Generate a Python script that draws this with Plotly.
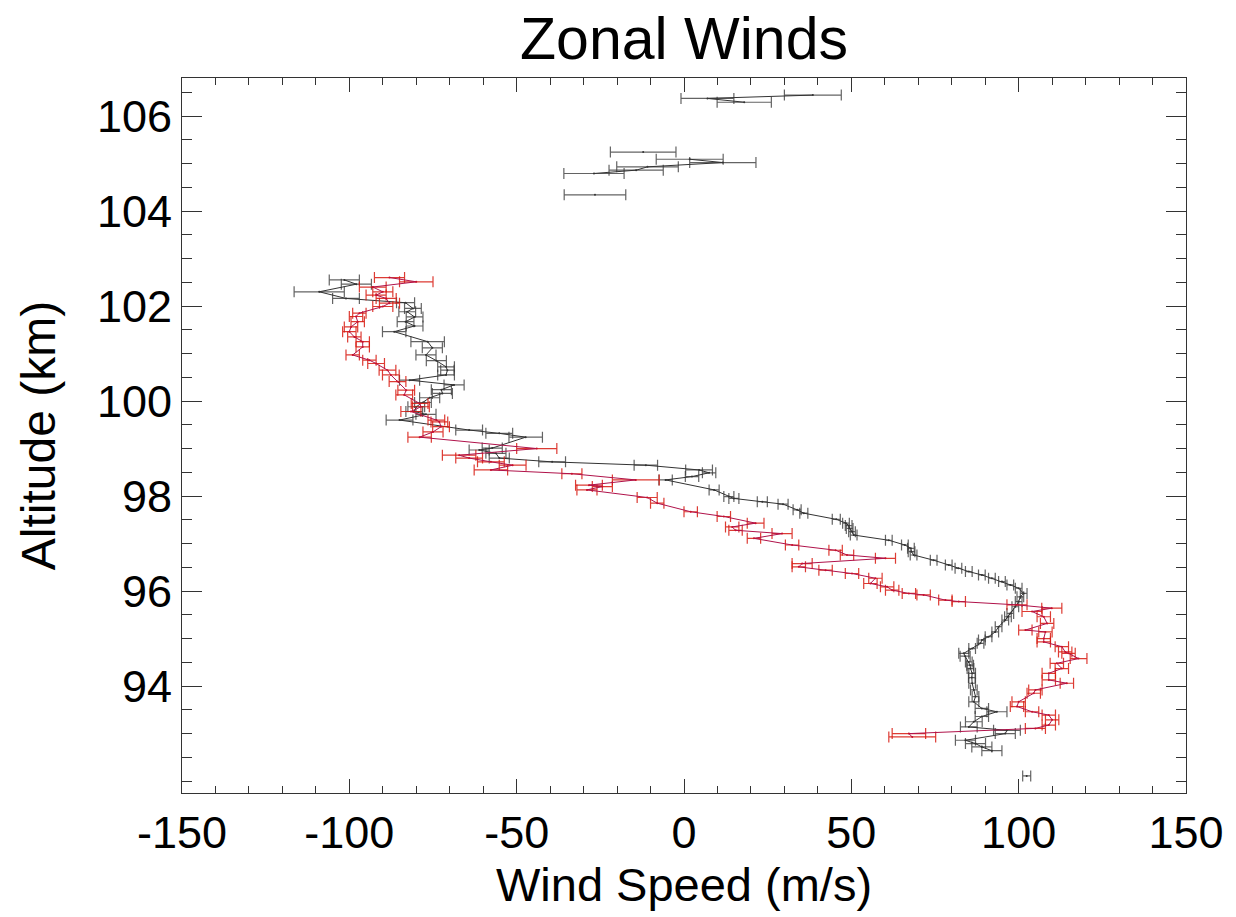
import plotly.graph_objects as go

# ---------------- data (altitude km, zonal wind m/s, error m/s) ----------------
# black series (upper isolated groups, main profile, lowest isolated point)
black_alt = [106.44, 106.37, 106.29, None,
             105.24, None,
             105.09, 105.02, 104.93, 104.86, 104.79, None,
             104.34, None,
             102.55, 102.46, 102.30, 102.16, 102.07, 101.95, 101.88, 101.77, 101.67, 101.58,
             101.46, 101.25, 101.12, 100.97, 100.85, 100.72, 100.65, 100.55, 100.44, 100.34,
             100.24, 100.16, 100.07, 99.97, 99.88, 99.78, 99.72, 99.60, 99.39, 99.32,
             99.24, 99.01, 98.97, 98.90, 98.80, 98.72, 98.65, 98.55, 98.49, 98.41,
             98.34, 98.13, 97.99, 97.95, 97.88, 97.83, 97.71, 97.64, 97.51, 97.43,
             97.38, 97.32, 97.25, 97.18, 97.07, 96.97, 96.90, 96.83, 96.76, 96.65,
             96.55, 96.48, 96.41, 96.34, 96.27, 96.20, 96.13, 96.06, 95.95, 95.88,
             95.78, 95.67, 95.53, 95.46, 95.39, 95.25, 95.14, 95.04, 94.97, 94.90,
             94.79, 94.69, 94.63, 94.51, 94.44, 94.37, 94.27, 94.18, 94.06, 93.92,
             93.78, 93.67, 93.53, 93.46, 93.36, 93.25, 93.14, 93.07, 93.00, 92.86,
             92.79, 92.72, 92.64, None,
             92.11]
black_wind = [38.5, 7.0, 18.0, None,
              -12.2, None,
              1.7, 11.6, -10.9, -14.3, -26.9, None,
              -26.6, None,
              -101.5, -97.9, -109.0, -101.0, -83.2, -81.0, -82.7, -80.5, -83.2, -80.5,
              -86.6, -76.6, -75.2, -77.1, -74.0, -71.1, -70.7, -71.1, -82.0, -68.7,
              -72.5, -72.2, -76.0, -78.0, -80.0, -80.6, -77.1, -85.0, -64.2, -55.2,
              -47.3, -57.3, -61.2, -56.2, -55.2, -39.4, -11.4, 4.5, 7.5, 2.4,
              -5.5, 9.0, 13.4, 14.9, 23.4, 29.6, 33.8, 35.8, 45.5, 48.4,
              49.2, 49.5, 50.2, 50.7, 61.2, 66.0, 67.8, 68.0, 68.6, 74.6,
              79.1, 82.0, 85.1, 89.0, 92.0, 95.0, 97.5, 100.0, 101.5, 100.5,
              100.0, 99.0, 97.5, 96.8, 96.0, 94.0, 93.0, 91.0, 89.0, 88.6,
              86.1, 83.6, 84.0, 85.1, 85.5, 85.6, 86.1, 86.0, 86.1, 86.6,
              87.1, 86.6, 89.0, 93.5, 89.0, 86.6, 85.1, 96.5, 96.0, 84.1,
              87.1, 89.0, 92.0, None,
              102.4]
black_err = [8.5, 7.9, 8.1, None,
             9.8, None,
             10.0, 9.9, 9.2, 8.1, 9.0, None,
             9.2, None,
             4.5, 4.5, 7.5, 4.0, 2.7, 2.5, 2.5, 2.5, 2.5, 2.5,
             3.5, 5.0, 3.0, 3.0, 3.0, 2.5, 2.0, 2.5, 3.0, 3.0,
             3.0, 3.0, 3.0, 2.5, 2.5, 2.5, 3.0, 4.0, 4.0, 4.0,
             5.0, 3.0, 3.0, 3.0, 3.0, 4.0, 3.5, 4.0, 2.0, 2.0,
             2.0, 1.5, 1.5, 1.5, 1.5, 1.5, 1.2, 1.2, 1.2, 1.0,
             1.0, 1.0, 1.0, 1.0, 1.0, 1.0, 1.0, 1.0, 1.0, 1.0,
             1.0, 1.0, 1.0, 1.0, 1.0, 1.0, 1.0, 1.0, 1.0, 1.0,
             1.0, 1.0, 1.0, 1.0, 1.0, 1.0, 1.0, 1.0, 1.0, 1.0,
             1.0, 1.5, 1.5, 1.0, 1.0, 1.0, 1.0, 1.0, 1.0, 1.0,
             1.0, 1.5, 2.0, 3.0, 2.0, 2.5, 2.5, 4.0, 3.0, 3.0,
             3.0, 3.0, 3.0, None,
             1.2]

# red series
red_alt = [102.60, 102.51, 102.40, 102.30, 102.23, 102.16, 102.06, 101.99, 101.85, 101.78,
           101.67, 101.56, 101.46, 101.35, 101.25, 101.14, 100.97, 100.86, 100.79, 100.65,
           100.55, 100.41, 100.23, 100.13, 99.95, 99.88, 99.78, 99.60, 99.56, 99.46,
           99.35, 99.24, 99.00, 98.86, 98.80, 98.72, 98.65, 98.55, 98.47, 98.34,
           98.23, 98.20, 98.13, 97.97, 97.85, 97.67, 97.57, 97.43, 97.35, 97.28,
           97.21, 97.11, 96.97, 96.86, 96.76, 96.69, 96.58, 96.51, 96.44, 96.37,
           96.27, 96.16, 96.09, 96.02, 95.95, 95.92, 95.81, 95.78, 95.71, 95.64,
           95.57, 95.46, 95.32, 95.18, 95.14, 95.00, 94.93, 94.83, 94.72, 94.69,
           94.58, 94.48, 94.37, 94.27, 94.13, 94.06, 93.92, 93.85, 93.67, 93.57,
           93.46, 93.39, 93.29, 93.18, 93.11, 93.00, 92.93]
red_wind = [-88.0, -80.0, -93.0, -90.0, -92.0, -89.0, -88.0, -90.0, -97.0, -98.0,
            -97.5, -99.5, -100.0, -98.5, -96.0, -96.0, -99.0, -94.0, -92.0, -88.6,
            -87.6, -85.6, -83.0, -83.6, -79.0, -78.6, -81.6, -74.0, -73.1, -72.6,
            -75.0, -79.0, -44.0, -67.2, -64.2, -57.7, -51.2, -57.7, -33.5, -14.4,
            -28.4, -24.4, -29.0, -11.0, -8.0, 2.0, 11.9, 21.4, 14.4, 15.4,
            29.3, 20.9, 32.3, 45.3, 48.7, 60.2, 35.3, 34.3, 42.3, 50.2,
            57.2, 55.7, 60.7, 62.2, 67.2, 71.6, 78.1, 82.1, 99.5, 109.9,
            104.0, 107.5, 108.5, 102.0, 108.0, 107.5, 107.5, 112.9, 113.9, 114.9,
            117.9, 111.4, 112.9, 109.0, 109.0, 114.4, 105.0, 104.5, 100.0, 99.5,
            104.0, 109.0, 110.0, 109.0, 105.0, 67.2, 68.2]
red_err = [4.5, 5.0, 4.0, 3.0, 3.0, 3.0, 3.0, 3.0, 2.0, 2.0,
           2.0, 2.0, 2.0, 2.0, 2.0, 2.0, 2.0, 2.0, 2.5, 2.5,
           2.5, 2.5, 2.5, 2.5, 2.5, 2.5, 3.0, 2.5, 2.5, 2.5,
           3.0, 3.5, 6.0, 5.0, 4.0, 4.0, 4.0, 5.0, 3.0, 7.0,
           4.0, 3.0, 3.0, 3.0, 2.0, 2.0, 2.0, 2.5, 2.0, 2.0,
           3.0, 2.0, 2.0, 2.0, 2.0, 3.0, 3.0, 2.0, 2.0, 2.0,
           2.0, 2.0, 2.0, 2.0, 2.0, 2.0, 2.0, 2.0, 3.0, 3.0,
           3.0, 2.0, 2.0, 2.0, 2.0, 2.0, 2.0, 2.0, 2.0, 2.0,
           2.5, 2.0, 2.0, 2.0, 2.0, 2.0, 2.0, 2.0, 2.0, 2.0,
           2.0, 2.0, 2.0, 2.0, 3.0, 5.0, 7.0]

x_ticks = [-150, -100, -50, 0, 50, 100, 150]
y_ticks = [94, 96, 98, 100, 102, 104, 106]

FONT = "Liberation Sans, Arial, Helvetica, sans-serif"

fig = go.Figure()

fig.add_trace(go.Scatter(
    x=black_wind, y=black_alt, mode="lines+markers",
    line=dict(color="#333333", width=1),
    marker=dict(size=2, color="#333333"),
    error_x=dict(type="data", array=black_err, symmetric=True,
                 color="rgba(60,60,60,0.8)", thickness=1.2, width=5.5),
    connectgaps=False, showlegend=False, hoverinfo="skip"))

fig.add_trace(go.Scatter(
    x=red_wind, y=red_alt, mode="lines+markers",
    line=dict(color="#b0124a", width=1),
    marker=dict(size=2, color="#c8102e"),
    error_x=dict(type="data", array=red_err, symmetric=True,
                 color="rgba(215,25,15,0.85)", thickness=1.2, width=5.5),
    connectgaps=False, showlegend=False, hoverinfo="skip"))

axis_common = dict(
    showgrid=False, zeroline=False, showline=True, linecolor="#333333", linewidth=1,
    mirror="ticks", ticks="inside", tickcolor="#333333", tickwidth=1,
    tickfont=dict(family=FONT, size=45, color="black"),
)

fig.update_xaxes(
    range=[-150, 150], tickvals=x_ticks, ticktext=[str(v) for v in x_ticks], ticklen=14,
    minor=dict(dtick=10, tick0=0, ticks="inside", ticklen=7, tickcolor="#333333", tickwidth=1),
    title=dict(text="Wind Speed (m/s)", font=dict(family=FONT, size=47, color="black"), standoff=4),
    **axis_common)
fig.update_yaxes(
    range=[91.75, 106.8], tickvals=y_ticks, ticktext=[str(v) for v in y_ticks], ticklen=20,
    minor=dict(dtick=0.5, tick0=0, ticks="inside", ticklen=10, tickcolor="#333333", tickwidth=1),
    title=dict(text="Altitude (km)", font=dict(family=FONT, size=48, color="black"), standoff=26),
    **axis_common)

fig.update_layout(
    width=1236, height=917,
    margin=dict(l=182, r=48, t=78, b=124),
    paper_bgcolor="white", plot_bgcolor="white",
    title=dict(text="Zonal Winds", x=0.5, xref="paper", xanchor="center",
               y=1 - 38 / 917, yref="container", yanchor="middle",
               font=dict(family=FONT, size=59, color="black")),
)

fig.write_html("out.html")
